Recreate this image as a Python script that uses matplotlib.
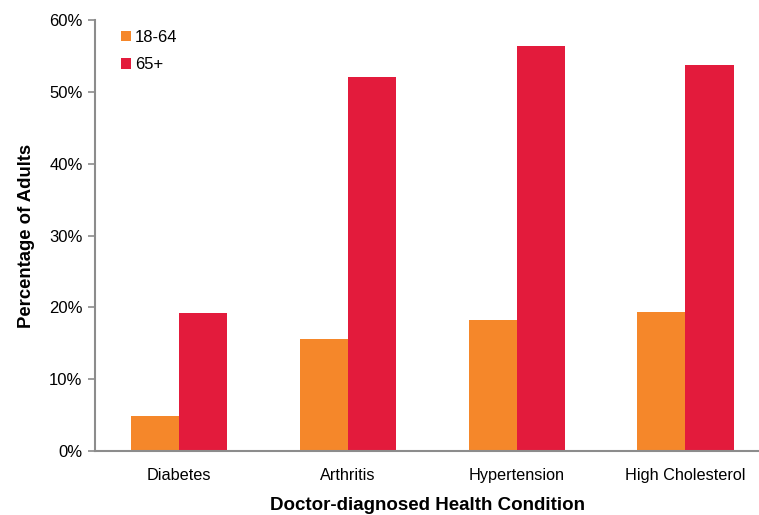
import matplotlib

matplotlib.use("Agg")
import matplotlib.pyplot as plt
from matplotlib.ticker import PercentFormatter

conditions = ["Diabetes", "Arthritis", "Hypertension", "High Cholesterol"]
age_18_64 = [4.9, 15.6, 18.2, 19.3]
age_65_plus = [19.2, 52.1, 56.4, 53.7]
series_labels = ["18-64", "65+"]

plt.rcParams["font.family"] = ["Liberation Sans", "DejaVu Sans"]

fig = plt.figure(figsize=(7.59, 5.15), dpi=100)
ax = fig.add_axes([95 / 759, 64 / 515, 664 / 759, 431 / 515])

width = 0.285
xs = range(len(conditions))
ax.bar([x - width / 2 for x in xs], age_18_64, width=width, color="#F5872A",
       label=series_labels[0])
ax.bar([x + width / 2 for x in xs], age_65_plus, width=width, color="#E31B3C",
       label=series_labels[1])

ax.set_xlim(-0.5, -0.5 + 664 / 168.7)
ax.set_ylim(0, 60)
ax.set_yticks(range(0, 61, 10))
ax.yaxis.set_major_formatter(PercentFormatter(decimals=0))
ax.set_xticks(list(xs))
ax.set_xticklabels(conditions)

for side in ("top", "right"):
    ax.spines[side].set_visible(False)
for side in ("left", "bottom"):
    ax.spines[side].set_color("#8c8c8c")
    ax.spines[side].set_linewidth(1.5)
ax.tick_params(axis="y", length=5, width=1.2, color="#8c8c8c", labelsize=12,
               pad=4)
ax.tick_params(axis="x", length=0, labelsize=11.7, pad=12)

ax.set_ylabel("Percentage of Adults", fontsize=13.3, fontweight="bold",
              labelpad=10)
ax.set_xlabel("Doctor-diagnosed Health Condition", fontsize=13.5,
              fontweight="bold", labelpad=10)

ax.legend(loc="upper left", bbox_to_anchor=(0.016, 1.012), frameon=False,
          fontsize=12, handlelength=0.6, handleheight=0.6,
          handletextpad=0.25, labelspacing=0.75)

fig.savefig("out.png", dpi=100)
